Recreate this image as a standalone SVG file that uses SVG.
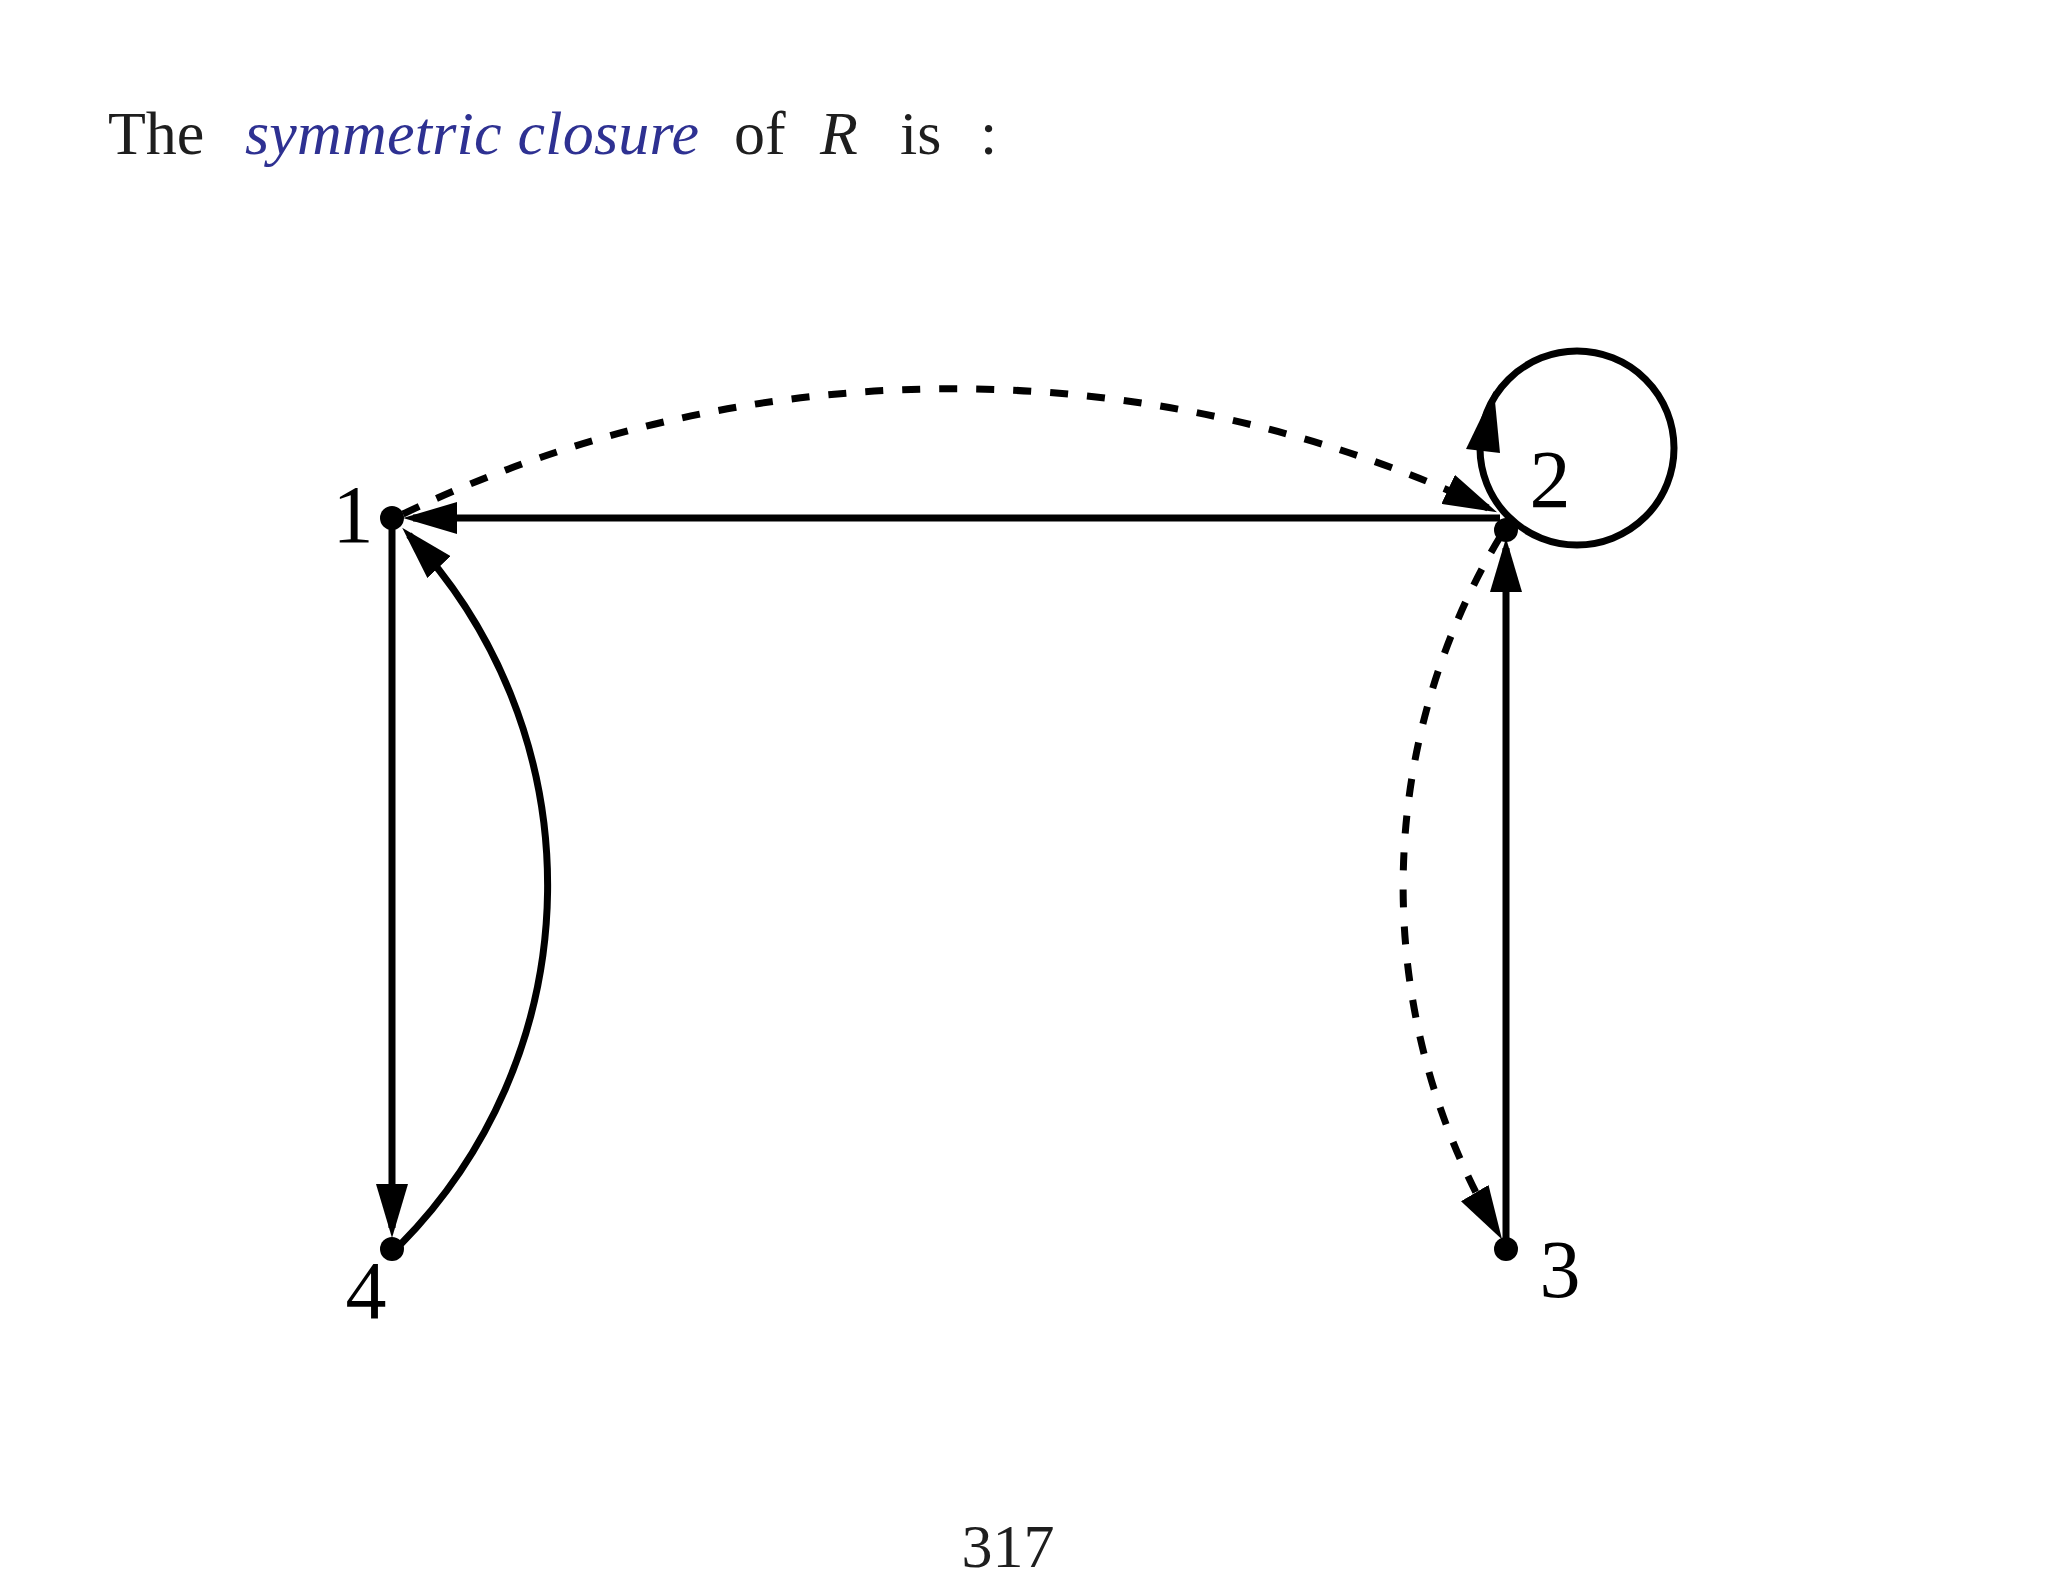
<svg xmlns="http://www.w3.org/2000/svg" width="2048" height="1582" viewBox="0 0 2048 1582">
  <style>
    .title { font-family: "Liberation Serif", "Times New Roman", serif; font-size: 62px; fill: #1e1e1e; }
    .em { font-style: italic; fill: #2e3192; }
    .it { font-style: italic; }
    .lbl { font-family: "Liberation Serif", "Times New Roman", serif; font-size: 82px; fill: #000; text-anchor: middle; }
    .edge { fill: none; stroke: #000; stroke-width: 7; }
    .dash { stroke-dasharray: 18 19; }
    .dot { fill: #000; }
  </style>
  <defs>
    <marker id="arr" markerUnits="userSpaceOnUse" markerWidth="54" markerHeight="32" viewBox="0 0 54 32" refX="44" refY="16" orient="auto">
      <path d="M0,0 L54,16 L0,32 z" fill="#000"/>
    </marker>
  </defs>
  <rect width="2048" height="1582" fill="#fff"/>

  <g id="title">
    <text class="title" x="108" y="154">The</text>
    <text class="title em" x="245" y="154" textLength="454" lengthAdjust="spacing">symmetric closure</text>
    <text class="title" x="734" y="154">of</text>
    <text class="title it" x="820" y="154">R</text>
    <text class="title" x="900" y="154">is</text>
    <text class="title" x="980" y="154">:</text>
  </g>

  <g id="connectors">
    <path id="e_2_1" class="edge" d="M1500,518 L413,518" marker-end="url(#arr)"/>
    <path id="e_1_4" class="edge" d="M392,518 L392,1228" marker-end="url(#arr)"/>
    <path id="e_4_1" class="edge" d="M400,1245 A512,512 0 0 0 409,535" marker-end="url(#arr)"/>
    <path id="e_3_2" class="edge" d="M1506,1250 L1506,548" marker-end="url(#arr)"/>
    <path id="e_1_2" class="edge dash" d="M403,514 A1265,1265 0 0 1 1488,508" marker-end="url(#arr)"/>
    <path id="e_2_3" class="edge dash" d="M1500,537 A679,679 0 0 0 1497,1231" marker-end="url(#arr)"/>
    <g id="loop_2">
      <circle class="edge" cx="1577" cy="448" r="97"/>
      <polygon points="1494,391 1466,449 1500,453" fill="#000"/>
    </g>
  </g>

  <g id="node1">
    <circle class="dot" cx="392" cy="518" r="12"/>
    <text class="lbl" x="353" y="542">1</text>
  </g>
  <g id="node2">
    <circle class="dot" cx="1506" cy="530" r="12"/>
    <text class="lbl" x="1550" y="507">2</text>
  </g>
  <g id="node3">
    <circle class="dot" cx="1506" cy="1249" r="12"/>
    <text class="lbl" x="1560" y="1297">3</text>
  </g>
  <g id="node4">
    <circle class="dot" cx="392" cy="1249" r="12"/>
    <text class="lbl" x="366" y="1318">4</text>
  </g>

  <text id="page" class="title" x="1008" y="1567" text-anchor="middle">317</text>
</svg>
